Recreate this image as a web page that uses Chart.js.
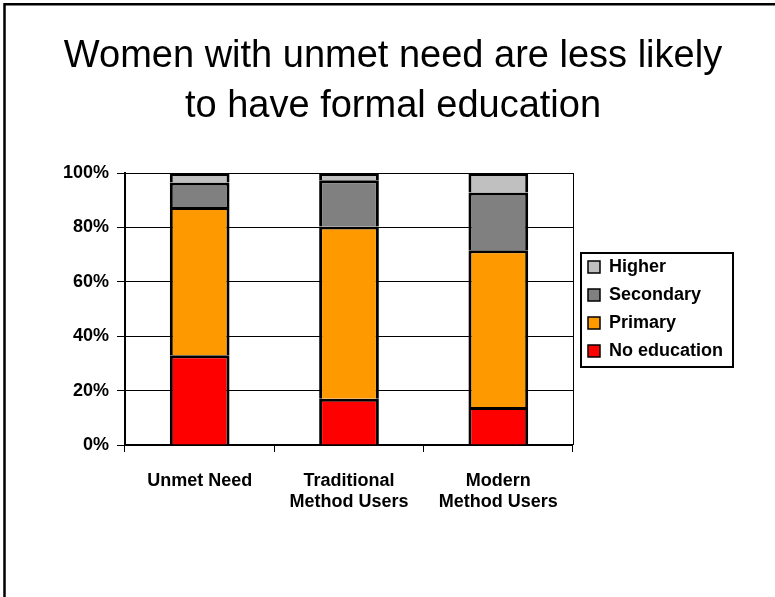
<!DOCTYPE html>
<html>
<head>
<meta charset="utf-8">
<title>Education by contraceptive status</title>
<script src="https://cdn.jsdelivr.net/npm/chart.js@4.4.1/dist/chart.umd.min.js"></script>
<style>
  html, body { margin: 0; padding: 0; background: #fff; }
  canvas { display: block; }
</style>
</head>
<body>
<canvas id="edu" width="775" height="597"></canvas>
<script>
// categories and shares (%) per education level, bottom to top of each stack
const groups = [['Unmet Need'], ['Traditional', 'Method Users'], ['Modern', 'Method Users']];
const noEducation = [33, 17, 14];
const primary = [54.5, 63.3, 57.6];
const secondary = [9, 17, 21.2];
const higher = [3.5, 2.7, 7.2];
const yTicks = [0, 20, 40, 60, 80, 100];
const titleLines = ['Women with unmet need are less likely', 'to have formal education'];

const FONT = "'Liberation Sans', Arial, Helvetica, sans-serif";

// page frame, two-line heading, plot border and legend box
const decorations = {
  id: 'decorations',
  beforeDraw(chart) {
    const ctx = chart.ctx;
    ctx.save();
    ctx.fillStyle = '#fff';
    ctx.fillRect(0, 0, chart.width, chart.height);
    ctx.strokeStyle = '#000';
    ctx.lineWidth = 2.5;
    ctx.beginPath();
    ctx.moveTo(4.5, chart.height);
    ctx.lineTo(4.5, 4.2);
    ctx.lineTo(chart.width, 4.2);
    ctx.stroke();
    ctx.fillStyle = '#000';
    ctx.font = '38px ' + FONT;
    ctx.textAlign = 'center';
    ctx.textBaseline = 'alphabetic';
    titleLines.forEach((t, i) => ctx.fillText(t, 393, 67 + i * 50));
    ctx.restore();
  },
  afterLayout(chart) {
    // keep the legend beside the plot area only, a little away from it
    const lg = chart.legend, a = chart.chartArea;
    lg.left += 5;
    lg.right += 5;
    lg.top = a.top;
    lg.bottom = a.bottom;
    lg.height = a.bottom - a.top;
  },
  afterDraw(chart) {
    const {ctx, chartArea: a} = chart;
    ctx.save();
    ctx.strokeStyle = '#000';
    ctx.lineWidth = 1;
    ctx.beginPath();
    ctx.moveTo(Math.round(a.right) + 0.5, a.top);
    ctx.lineTo(Math.round(a.right) + 0.5, a.bottom);
    ctx.stroke();

    const hb = chart.legend.legendHitBoxes;
    if (hb && hb.length) {
      const first = hb[0], last = hb[hb.length - 1];
      const left = first.left - 7;
      const right = Math.max(...hb.map(h => h.left + h.width)) + 10;
      const top = first.top - 5;
      const bottom = last.top + last.height + 6.5;
      ctx.lineWidth = 2;
      ctx.strokeRect(Math.round(left), Math.round(top), Math.round(right - left), Math.round(bottom - top));
    }
    ctx.restore();
  }
};

const seg = (label, data, color) => ({
  label,
  data,
  backgroundColor: color,
  borderColor: '#000',
  borderWidth: 3,
  barPercentage: 0.4,
  categoryPercentage: 1
});

new Chart(document.getElementById('edu'), {
  type: 'bar',
  data: {
    labels: groups,
    datasets: [
      seg('No education', noEducation, '#FF0000'),
      seg('Primary', primary, '#FF9900'),
      seg('Secondary', secondary, '#808080'),
      seg('Higher', higher, '#C0C0C0')
    ]
  },
  options: {
    responsive: false,
    animation: false,
    layout: { padding: { top: 173, bottom: 82, left: 0, right: 47 } },
    plugins: {
      title: { display: false },
      tooltip: { enabled: false },
      legend: {
        position: 'right',
        reverse: true,
        labels: {
          color: '#000',
          font: { family: FONT, size: 18, weight: 'bold' },
          boxWidth: 12,
          boxHeight: 12,
          padding: 10,
          generateLabels(chart) {
            return Chart.defaults.plugins.legend.labels.generateLabels(chart)
              .map(item => Object.assign(item, { lineWidth: 1.5, strokeStyle: '#000' }));
          }
        }
      }
    },
    scales: {
      x: {
        stacked: true,
        afterFit(s) { s.height = 70; },
        grid: { display: true, drawOnChartArea: false, color: '#000', lineWidth: 1, tickLength: 7 },
        border: { display: true, color: '#000', width: 2 },
        ticks: {
          color: '#000',
          padding: 18,
          maxRotation: 0,
          font: { family: FONT, size: 18, weight: 'bold', lineHeight: 1.2 }
        }
      },
      y: {
        stacked: true,
        min: 0,
        max: 100,
        afterFit(s) { s.width = 125; },
        afterBuildTicks(s) { s.ticks = yTicks.map(v => ({ value: v })); },
        grid: { color: '#000', lineWidth: 1, tickLength: 8 },
        border: { display: true, color: '#000', width: 2 },
        ticks: {
          color: '#000',
          padding: 8,
          font: { family: FONT, size: 18, weight: 'bold' },
          callback: v => v + '%'
        }
      }
    }
  },
  plugins: [decorations]
});
</script>
</body>
</html>
